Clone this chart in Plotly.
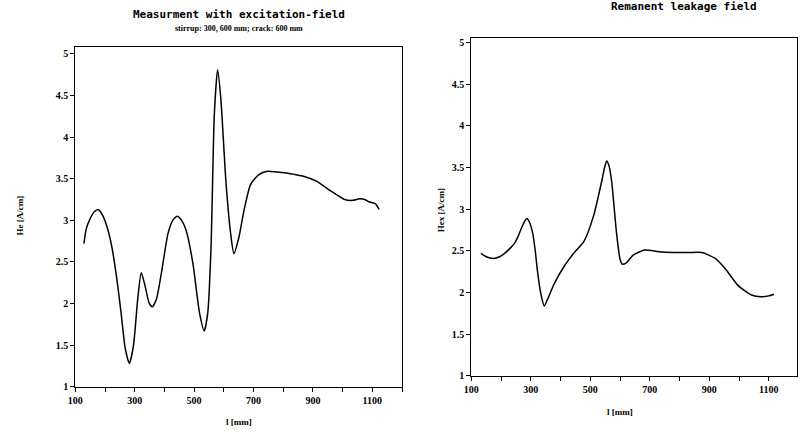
import plotly.graph_objects as go

# Left: measurement with excitation field
x_left = [129, 137, 150, 163, 177, 192, 207, 223, 240, 254, 268, 282, 296, 310, 322,
          335, 348, 359, 373, 390, 412, 428, 443, 458, 473, 496, 518, 534, 546, 557,
          568, 579, 590, 607, 623, 634, 651, 668, 690, 718, 746, 780, 812, 840, 868,
          912, 957, 1007, 1035, 1057, 1075, 1090, 1110, 1123]
y_left = [2.72, 2.90, 3.02, 3.10, 3.13, 3.06, 2.92, 2.68, 2.29, 1.89, 1.46, 1.28, 1.50,
          2.05, 2.37, 2.21, 2.01, 1.96, 2.05, 2.37, 2.84, 3.00, 3.05, 3.00, 2.88, 2.48,
          1.89, 1.67, 1.89, 2.68, 4.27, 4.81, 4.46, 3.47, 2.84, 2.60, 2.80, 3.12, 3.43,
          3.55, 3.59, 3.58, 3.57, 3.55, 3.53, 3.47, 3.36, 3.25, 3.24, 3.26, 3.25, 3.22,
          3.20, 3.13]

# Right: remanent leakage field
x_right = [132, 150, 173, 195, 212, 230, 245, 258, 267, 280, 287, 296, 306, 315, 322,
           333, 345, 360, 378, 411, 444, 478, 511, 538, 548, 555, 563, 572, 588, 600,
           608, 622, 644, 682, 730, 776, 830, 875, 920, 953, 998, 1042, 1075, 1100, 1117]
y_right = [2.47, 2.43, 2.41, 2.43, 2.47, 2.53, 2.59, 2.68, 2.76, 2.86, 2.89, 2.84, 2.72,
           2.50, 2.27, 2.00, 1.84, 1.95, 2.10, 2.31, 2.47, 2.61, 2.92, 3.33, 3.50, 3.58,
           3.52, 3.33, 2.72, 2.40, 2.34, 2.36, 2.45, 2.51, 2.49, 2.48, 2.48, 2.48, 2.41,
           2.29, 2.08, 1.97, 1.95, 1.96, 1.98]

x_ticks = [100, 200, 300, 400, 500, 600, 700, 800, 900, 1000, 1100, 1200]
x_tick_labels = ["100", "", "300", "", "500", "", "700", "", "900", "", "1100", ""]
y_ticks = [1, 1.5, 2, 2.5, 3, 3.5, 4, 4.5, 5]
y_tick_labels = ["1", "1.5", "2", "2.5", "3", "3.5", "4", "4.5", "5"]

tick_font = dict(family="Liberation Serif", size=10, color="black", weight="bold")

fig = go.Figure()
fig.add_trace(go.Scatter(x=x_left, y=y_left, mode="lines", line=dict(color="black", width=1.5, shape="spline", smoothing=0.6),
                         xaxis="x", yaxis="y", showlegend=False))
fig.add_trace(go.Scatter(x=x_right, y=y_right, mode="lines", line=dict(color="black", width=1.5, shape="spline", smoothing=0.6),
                         xaxis="x2", yaxis="y2", showlegend=False))

axis_common = dict(showgrid=False, zeroline=False, showline=True, linecolor="black", linewidth=1,
                   mirror=True, ticks="outside", ticklen=4, tickcolor="black", tickfont=tick_font)

fig.update_layout(
    width=800, height=437,
    margin=dict(l=0, r=0, t=0, b=0),
    paper_bgcolor="white", plot_bgcolor="white",
    xaxis=dict(domain=[68/800, 398/800], range=[100, 1200], tickvals=x_ticks, ticktext=x_tick_labels,
               anchor="y", **axis_common),
    yaxis=dict(domain=[1-392/437, 1-47/437], range=[1, 5.08], tickvals=y_ticks, ticktext=y_tick_labels,
               anchor="x", **axis_common),
    xaxis2=dict(domain=[468/800, 797/800], range=[100, 1195], tickvals=x_ticks, ticktext=x_tick_labels,
                anchor="y2", **axis_common),
    yaxis2=dict(domain=[1-381/437, 1-38/437], range=[1, 5.05], tickvals=y_ticks, ticktext=y_tick_labels,
                anchor="x2", **axis_common),
)

ann = []
ann.append(dict(text="<b>Measurment with excitation-field</b>", x=233/800, y=1-14/437, xref="paper", yref="paper",
                showarrow=False, font=dict(family="DejaVu Sans Mono", size=11, color="black"), xanchor="center", yanchor="middle"))
ann.append(dict(text="<b>stirrup: 300, 600 mm; crack: 600 mm</b>", x=233/800, y=1-28/437, xref="paper", yref="paper",
                showarrow=False, font=dict(family="Liberation Serif", size=8, color="black"), xanchor="center", yanchor="middle"))
ann.append(dict(text="<b>Remanent leakage field</b>", x=683/800, y=1-6/437, xref="paper", yref="paper",
                showarrow=False, font=dict(family="DejaVu Sans Mono", size=11, color="black"), xanchor="center", yanchor="middle"))
ann.append(dict(text="<b>He [A/cm]</b>", x=12/800, y=1-218/437, xref="paper", yref="paper", textangle=-90,
                showarrow=False, font=dict(family="Liberation Serif", size=9, color="black"), xanchor="center", yanchor="middle"))
ann.append(dict(text="<b>Hex [A/cm]</b>", x=437/800, y=1-213/437, xref="paper", yref="paper", textangle=-90,
                showarrow=False, font=dict(family="Liberation Serif", size=9, color="black"), xanchor="center", yanchor="middle"))
ann.append(dict(text="<b>l [mm]</b>", x=233/800, y=1-428/437, xref="paper", yref="paper",
                showarrow=False, font=dict(family="Liberation Serif", size=9, color="black"), xanchor="center", yanchor="middle"))
ann.append(dict(text="<b>l [mm]</b>", x=618/800, y=1-418/437, xref="paper", yref="paper",
                showarrow=False, font=dict(family="Liberation Serif", size=9, color="black"), xanchor="center", yanchor="middle"))
fig.update_layout(annotations=ann)

fig.write_html("out.html")
